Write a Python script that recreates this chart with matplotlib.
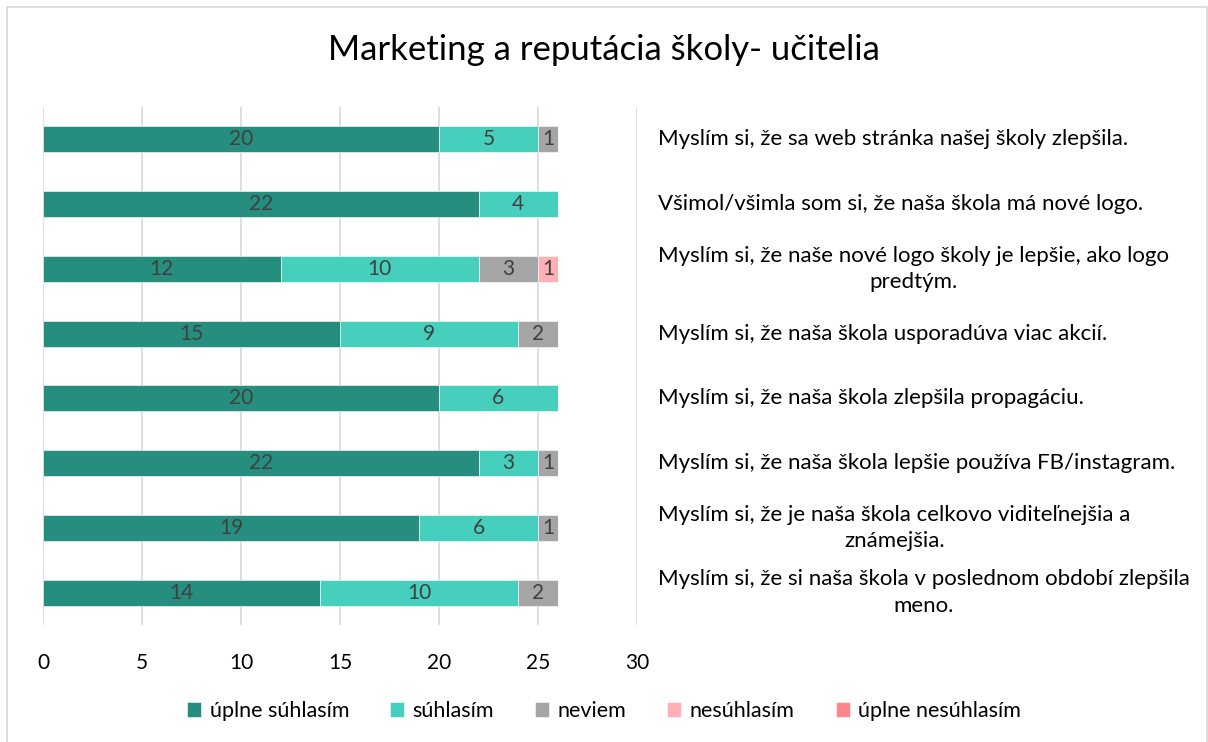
import matplotlib.pyplot as plt
import matplotlib.transforms as mtransforms
from matplotlib.patches import Rectangle
import numpy as np

plt.rcParams['font.family'] = ['Lato', 'DejaVu Sans']

questions = [
    "Myslím si, že sa web stránka našej školy zlepšila.",
    "Všimol/všimla som si, že naša škola má nové logo.",
    "Myslím si, že naše nové logo školy je lepšie, ako logo\npredtým.",
    "Myslím si, že naša škola usporadúva viac akcií.",
    "Myslím si, že naša škola zlepšila propagáciu.",
    "Myslím si, že naša škola lepšie používa FB/instagram.",
    "Myslím si, že je naša škola celkovo viditeľnejšia a\nznámejšia.",
    "Myslím si, že si naša škola v poslednom období zlepšila\nmeno.",
]
answers = ["úplne súhlasím", "súhlasím", "neviem", "nesúhlasím", "úplne nesúhlasím"]
uplne_suhlasim = [20, 22, 12, 15, 20, 22, 19, 14]
suhlasim = [5, 4, 10, 9, 6, 3, 6, 10]
neviem = [1, 0, 3, 2, 0, 1, 1, 2]
nesuhlasim = [0, 0, 1, 0, 0, 0, 0, 0]
uplne_nesuhlasim = [0, 0, 0, 0, 0, 0, 0, 0]
colors = ["#258E7E", "#47CFBD", "#A5A5A5", "#FFB0B5", "#FF878C"]

series = [uplne_suhlasim, suhlasim, neviem, nesuhlasim, uplne_nesuhlasim]

fig = plt.figure(figsize=(12.08, 7.42), dpi=100)
ax = fig.add_axes([43 / 1208, 1 - 625 / 742, 594 / 1208, 518 / 742])

y = np.arange(len(questions))
left = np.zeros(len(questions))
for name, vals, col in zip(answers, series, colors):
    vals = np.array(vals, dtype=float)
    bars = ax.barh(y, vals, left=left, height=0.4, color=col, label=name,
                   edgecolor='white', linewidth=0.4, zorder=2)
    for rect, v in zip(bars, vals):
        if v > 0:
            ax.text(rect.get_x() + rect.get_width() / 2, rect.get_y() + rect.get_height() / 2,
                    f"{int(v)}", ha='center', va='center', fontsize=15, color='#404040', zorder=3)
    left += vals

ax.set_xlim(0, 30)
ax.set_ylim(len(questions) - 0.5, -0.5)
ax.set_xticks(range(0, 31, 5))
ax.xaxis.grid(True, color='#D9D9D9', linewidth=1.2, zorder=0)
ax.set_yticks([])
for s in ax.spines.values():
    s.set_visible(False)
ax.tick_params(axis='x', length=0, pad=20, labelsize=15, labelcolor='#000000')

# question texts to the right of the bars
trans = mtransforms.blended_transform_factory(fig.transFigure, ax.transData)
for yi, q in zip(y, questions):
    ax.text(658 / 1208, yi, q, transform=trans, ha='left', va='center',
            multialignment='center', fontsize=16, color='#000000',
            linespacing=1.4, clip_on=False)

fig.text(0.5, 1 - 50 / 742, "Marketing a reputácia školy- učitelia", ha='center', va='center',
         fontsize=25, color='#000000')

handles, labels = ax.get_legend_handles_labels()
fig.legend(handles, labels, loc='center', bbox_to_anchor=(0.5, 1 - 711 / 742), ncol=5,
           frameon=False, fontsize=15.5, handlelength=0.65, handleheight=0.65,
           handletextpad=0.4, columnspacing=1.9)

fig.patches.append(Rectangle((7 / 1208, -0.01), 1200 / 1208, 1 - 7 / 742 + 0.01,
                             transform=fig.transFigure, fill=False,
                             edgecolor='#D9D9D9', linewidth=1.2))

fig.savefig("out.png", dpi=100, facecolor='white')
